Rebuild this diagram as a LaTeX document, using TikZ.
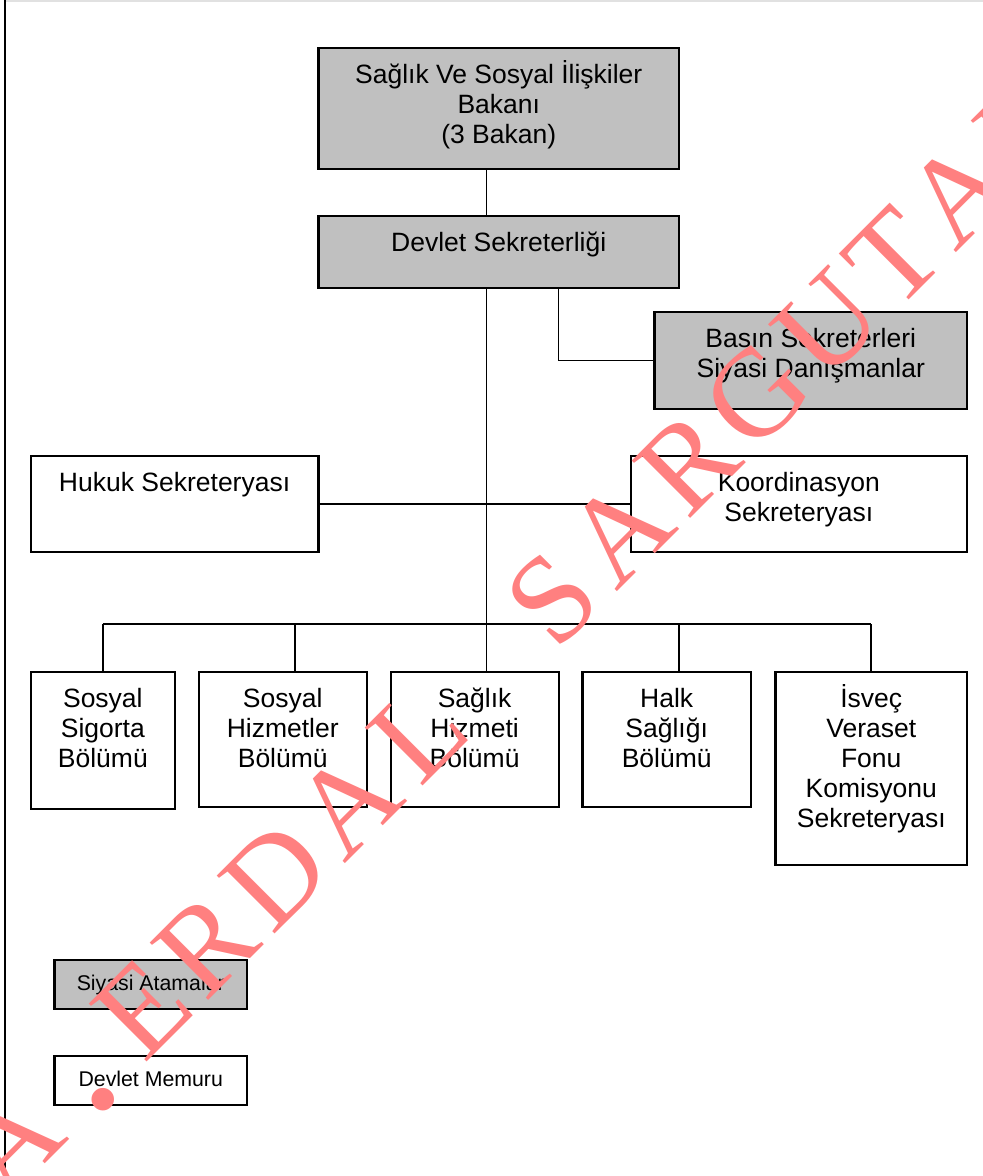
\documentclass[tikz,border=0pt]{standalone}
\usepackage{fontspec}
\setmainfont{Liberation Sans}
\newfontfamily\wmfont{Liberation Serif}
\usetikzlibrary{calc}
\definecolor{boxgray}{RGB}{192,192,192}
\definecolor{wmpink}{RGB}{255,128,128}
\definecolor{topline}{RGB}{225,225,225}
\begin{document}
\begin{tikzpicture}[x=1pt,y=-1pt,
  box/.style={draw=black, line width=2.2pt, rectangle, inner sep=0pt, outer sep=0pt, fill=white},
  gbox/.style={box, fill=boxgray},
  big/.style={anchor=north, inner sep=0pt, outer sep=0pt, align=center, font=\fontsize{26.5}{30}\selectfont},
  small/.style={anchor=north, inner sep=0pt, outer sep=0pt, align=center, font=\fontsize{21.3}{24}\selectfont},
  conn/.style={draw=black, line width=1.6pt},
  wm/.style={text=wmpink, inner sep=0pt, anchor=base, rotate=45, font=\wmfont\fontsize{125}{125}\selectfont},
]
\useasboundingbox[fill=white] (0,0) rectangle (983,1176);
% page borders
\draw[topline, line width=1.5pt] (5,0.8) -- (983,0.8);
\draw[black, line width=2pt] (5,0) -- (5,1176);

% boxes
\node[gbox, minimum width=360.5pt, minimum height=121pt,
  label={[big]north:{\rule{0pt}{35.6pt}Sağlık Ve Sosyal İlişkiler\\Bakanı\\(3 Bakan)}}] (top) at (498.75,108.2) {};
\node[gbox, minimum width=360.5pt, minimum height=72pt,
  label={[big]north:{\rule{0pt}{35.6pt}Devlet Sekreterliği}}] (ds) at (498.75,252) {};
\node[gbox, minimum width=312.5pt, minimum height=96.4pt,
  label={[big]north:{\rule{0pt}{35.6pt}Basın Sekreterleri\\Siyasi Danışmanlar}}] (basin) at (810.75,360.5) {};
\node[box, minimum width=287.8pt, minimum height=96.3pt,
  label={[big]north:{\rule{0pt}{35.6pt}Hukuk Sekreteryası}}] (hukuk) at (174.6,504.15) {};
\node[box, minimum width=336.3pt, minimum height=96.3pt,
  label={[big]north:{\rule{0pt}{35.6pt}Koordinasyon\\Sekreteryası}}] (koord) at (798.85,504.15) {};

\node[box, minimum width=144.3pt, minimum height=136.7pt,
  label={[big]north:{\rule{0pt}{35.6pt}Sosyal\\Sigorta\\Bölümü}}] (b1) at (102.85,740.35) {};
\node[box, minimum width=168.1pt, minimum height=134.7pt,
  label={[big]north:{\rule{0pt}{35.6pt}Sosyal\\Hizmetler\\Bölümü}}] (b2) at (282.75,739.35) {};
\node[box, minimum width=168pt, minimum height=134.7pt,
  label={[big]north:{\rule{0pt}{35.6pt}Sağlık\\Hizmeti\\Bölümü}}] (b3) at (474.6,739.35) {};
\node[box, minimum width=168.6pt, minimum height=134.7pt,
  label={[big]north:{\rule{0pt}{35.6pt}Halk\\Sağlığı\\Bölümü}}] (b4) at (666.7,739.35) {};
\node[box, minimum width=191.5pt, minimum height=192.7pt,
  label={[big]north:{\rule{0pt}{35.6pt}İsveç\\Veraset\\Fonu\\Komisyonu\\Sekreteryası}}] (b5) at (871.25,768.35) {};

\node[gbox, minimum width=192.5pt, minimum height=48.4pt,
  label={[small]north:{\rule{0pt}{30.5pt}Siyasi Atamalar}}] (siyasi) at (150.75,984.5) {};
\node[box, minimum width=192.5pt, minimum height=48.7pt,
  label={[small]north:{\rule{0pt}{30.5pt}Devlet Memuru}}] (memur) at (150.75,1080.35) {};

% connectors
\coordinate (trunk) at (486.5,0);
\coordinate (side) at (558.6,0);
\coordinate (j1) at (102.8,624);
\coordinate (j2) at (294.7,624);
\coordinate (j3) at (486.5,624);
\coordinate (j4) at (679,624);
\coordinate (j5) at (870.8,624);
\draw[conn] (top.south -| trunk) -- (ds.north -| trunk);
\draw[conn] (ds.south -| trunk) -- (j3);
\draw[conn] (ds.south -| side) |- (basin.west);
\draw[conn] (hukuk.east) -- (koord.west);
\draw[conn] (j1) -- (j5);
\draw[conn] (j1) -- (j1 |- b1.north);
\draw[conn] (j2) -- (j2 |- b2.north);
\draw[conn] (j3) -- (j3 |- b3.north);
\draw[conn] (j4) -- (j4 |- b4.north);
\draw[conn] (j5) -- (j5 |- b5.north);

% watermark
\node[wm] (wA1) at (38.8,1170.2) {A};
\node[wm, font=\wmfont\fontsize{190}{190}\selectfont, anchor=center] (wdot) at (103,1100) {.};
\node[wm] (wE) at (171.7,1037.3) {E};
\node[wm] (wR) at (235.4,973.6) {R};
\node[wm] (wD) at (304,905) {D};
\node[wm] (wA2) at (376.1,832.9) {A};
\node[wm] (wL) at (447.5,761.5) {L};
\node[wm] (wS) at (581.2,627.9) {S};
\node[wm] (wA3) at (648.3,560.7) {A};
\node[wm] (wR2) at (716.9,492.1) {R};
\node[wm] (wG) at (785.5,423.5) {G};
\node[wm] (wU) at (856.2,352.8) {U};
\node[wm] (wT) at (922.7,286.3) {T};
\node[wm] (wA4) at (987.8,221.3) {A};
\node[wm] (wN) at (1058,150) {N};
\end{tikzpicture}
\end{document}
